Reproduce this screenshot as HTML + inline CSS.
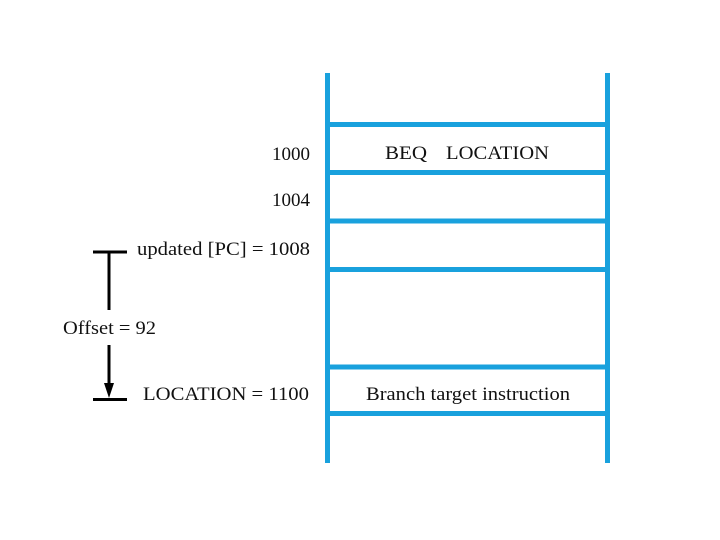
<!DOCTYPE html>
<html><head><meta charset="utf-8"><style>
html,body{margin:0;padding:0;background:#fff;width:720px;height:540px;overflow:hidden}
svg{display:block}
text{font-family:"Liberation Serif",serif;font-size:19px;fill:#111}
</style></head><body>
<svg width="720" height="540" viewBox="0 0 720 540">
<g stroke="#19a1dd" stroke-width="5">
<line x1="327.5" y1="73" x2="327.5" y2="463"/>
<line x1="607.5" y1="73" x2="607.5" y2="463"/>
<line x1="325" y1="124.5" x2="610" y2="124.5"/>
<line x1="325" y1="172.5" x2="610" y2="172.5"/>
<line x1="325" y1="221" x2="610" y2="221"/>
<line x1="325" y1="269.5" x2="610" y2="269.5"/>
<line x1="325" y1="367" x2="610" y2="367"/>
<line x1="325" y1="413.5" x2="610" y2="413.5"/>
</g>
<g stroke="#000" stroke-width="3">
<line x1="93" y1="252" x2="127" y2="252"/>
<line x1="93" y1="399.5" x2="127" y2="399.5"/>
<line x1="109" y1="252" x2="109" y2="310"/>
<line x1="109" y1="345" x2="109" y2="385"/>
</g>
<polygon points="104,383 114,383 109,398" fill="#000"/>
<text x="272" y="160" textLength="38" lengthAdjust="spacingAndGlyphs">1000</text>
<text x="272" y="206" textLength="38" lengthAdjust="spacingAndGlyphs">1004</text>
<text x="137" y="255" textLength="173" lengthAdjust="spacingAndGlyphs">updated [PC] = 1008</text>
<text x="63" y="334" textLength="93" lengthAdjust="spacingAndGlyphs">Offset = 92</text>
<text x="143" y="400" textLength="166" lengthAdjust="spacingAndGlyphs">LOCATION = 1100</text>
<text x="385" y="159" textLength="42" lengthAdjust="spacingAndGlyphs">BEQ</text>
<text x="446" y="159" textLength="103" lengthAdjust="spacingAndGlyphs">LOCATION</text>
<text x="366" y="400" textLength="204" lengthAdjust="spacingAndGlyphs">Branch target instruction</text>
</svg>
</body></html>
